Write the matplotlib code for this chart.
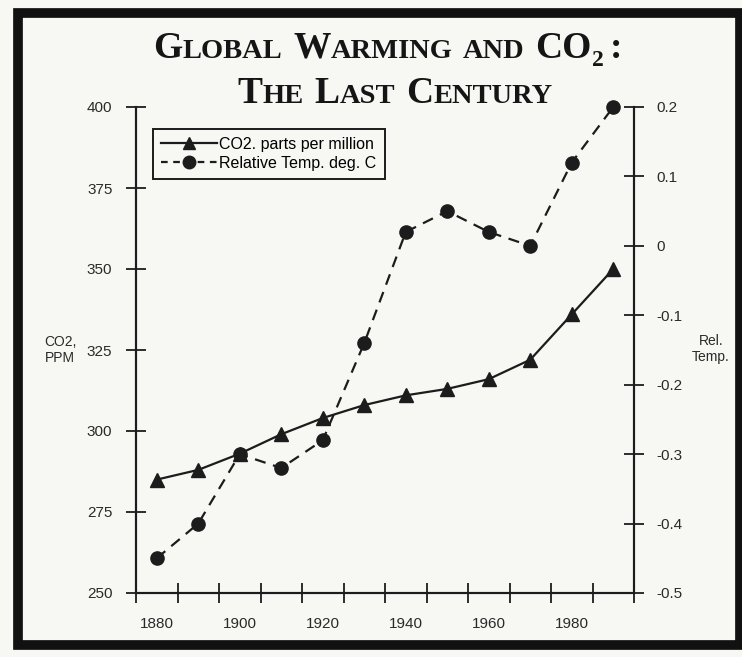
import matplotlib
matplotlib.use("Agg")
import matplotlib.pyplot as plt
from matplotlib.patches import Rectangle
from matplotlib.lines import Line2D

# data
years = [1880, 1890, 1900, 1910, 1920, 1930, 1940, 1950, 1960, 1970, 1980, 1990]
co2_ppm = [285, 288, 293, 299, 304, 308, 311, 313, 316, 322, 336, 350]
rel_temp = [-0.45, -0.40, -0.30, -0.32, -0.28, -0.14, 0.02, 0.05, 0.02, 0.00, 0.12, 0.20]

year_labels = [1880, 1900, 1920, 1940, 1960, 1980]
year_marks = list(range(1875, 2000, 10))
co2_ticks = [250, 275, 300, 325, 350, 375, 400]
temp_ticks = [-0.5, -0.4, -0.3, -0.2, -0.1, 0.0, 0.1, 0.2]
temp_ticklabels = ["-0.5", "-0.4", "-0.3", "-0.2", "-0.1", "0", "0.1", "0.2"]

W, H = 742, 657
ink = "#1c1c1c"
paper = "#f7f7f4"
sans = "Liberation Sans"
serif = "Liberation Serif"

fig = plt.figure(figsize=(W / 100, H / 100), dpi=100)
fig.patch.set_facecolor(paper)
# thick black frame round the page
fig.patches.append(Rectangle((18 / W, 1 - 645 / H), 722 / W, 632 / H,
                             transform=fig.transFigure, facecolor="none",
                             edgecolor="#111111", linewidth=7, zorder=-10))

ax = fig.add_axes([136 / W, 1 - 593 / H, 498 / W, 486 / H])
ax.set_facecolor("none")
ax2 = ax.twinx()

ax.plot(years, co2_ppm, color=ink, lw=1.6, marker="^", ms=10.5, zorder=3, clip_on=False)
ax2.plot(years, rel_temp, color=ink, lw=1.6, ls=(0, (5, 3.5)), marker="o", ms=9.5,
         zorder=3, clip_on=False)

ax.set_xlim(1875, 1995)
ax.set_ylim(250, 400)
ax2.set_ylim(-0.5, 0.2)

for a in (ax, ax2):
    a.spines["top"].set_visible(False)
    for s in ("left", "right", "bottom"):
        a.spines[s].set_linewidth(1.5)
        a.spines[s].set_color(ink)

ax.set_xticks(year_labels)
ax.set_xticklabels([str(y) for y in year_labels], fontfamily=sans, fontsize=11, color="#2a2a2a")
ax.set_xticks(year_marks, minor=True)
ax.tick_params(axis="x", which="major", length=0, pad=17)
ax.tick_params(axis="x", which="minor", direction="inout", length=14, width=1.3, color=ink)

ax.set_yticks(co2_ticks)
ax.set_yticklabels([str(v) for v in co2_ticks], fontfamily=sans, fontsize=11, color="#2a2a2a")
ax.tick_params(axis="y", direction="inout", length=15, width=1.3, color=ink, pad=9.5)

ax2.set_yticks(temp_ticks)
ax2.set_yticklabels(temp_ticklabels, fontfamily=sans, fontsize=11, color="#2a2a2a")
ax2.tick_params(axis="y", direction="inout", length=15, width=1.3, color=ink, pad=8.3)

fig.text(60 / W, 1 - 350 / H, "CO2,\nPPM", ha="center", va="center",
         fontfamily=sans, fontsize=10, color="#2a2a2a", linespacing=1.25)
fig.text(711 / W, 1 - 349 / H, "Rel.\nTemp.", ha="center", va="center",
         fontfamily=sans, fontsize=10, color="#2a2a2a", linespacing=1.25)

handles = [Line2D([], [], color=ink, lw=1.6, marker="^", ms=9),
           Line2D([], [], color=ink, lw=1.6, ls=(0, (3, 2.5)), marker="o", ms=9)]
leg = ax.legend(handles, ["CO2. parts per million", "Relative Temp. deg. C"],
                loc="upper left", bbox_to_anchor=(17 / 498, 1 - 22 / 486),
                prop={"family": sans, "size": 11.5}, frameon=True, fancybox=False,
                edgecolor=ink, handlelength=3.5, handletextpad=0.15,
                borderpad=0.5, labelspacing=0.25, borderaxespad=0)
leg.get_frame().set_linewidth(1.4)
leg.get_frame().set_facecolor(paper)
leg.get_frame().set_alpha(1)
leg.set_zorder(5)

# small-caps title built from pieces
BIG, SMALL, SUB = 27, 20.5, 17
line1 = [("G", BIG, 0), ("LOBAL", SMALL, 0), (None, 11, 0), ("W", BIG, 0), ("ARMING", SMALL, 0),
         (None, 10, 0), ("AND", SMALL, 0), (None, 11, 0), ("CO", BIG, 0), ("2", SUB, -8),
         (None, 7, 0), (":", BIG, 0)]
line2 = [("T", BIG, 0), ("HE", SMALL, 0), (None, 11, 0), ("L", BIG, 0), ("AST", SMALL, 0),
         (None, 11, 0), ("C", BIG, 0), ("ENTURY", SMALL, 0)]

renderer = fig.canvas.get_renderer()


def title_line(pieces, cx, baseline):
    items = []
    total = 0.0
    for txt, size, dy in pieces:
        if txt is None:
            total += size
            items.append((None, size, dy))
            continue
        t = fig.text(0, 0, txt, fontfamily=serif, fontsize=size, fontweight="bold",
                     color="#151515", va="baseline", ha="left")
        w = t.get_window_extent(renderer).width
        items.append((t, w, dy))
        total += w
    x = cx - total / 2
    for t, w, dy in items:
        if t is not None:
            t.set_position((x / W, 1 - (baseline - dy) / H))
        x += w


title_line(line1, 388, 58)
title_line(line2, 395, 103)

fig.savefig("out.png", dpi=100, facecolor=fig.get_facecolor())
